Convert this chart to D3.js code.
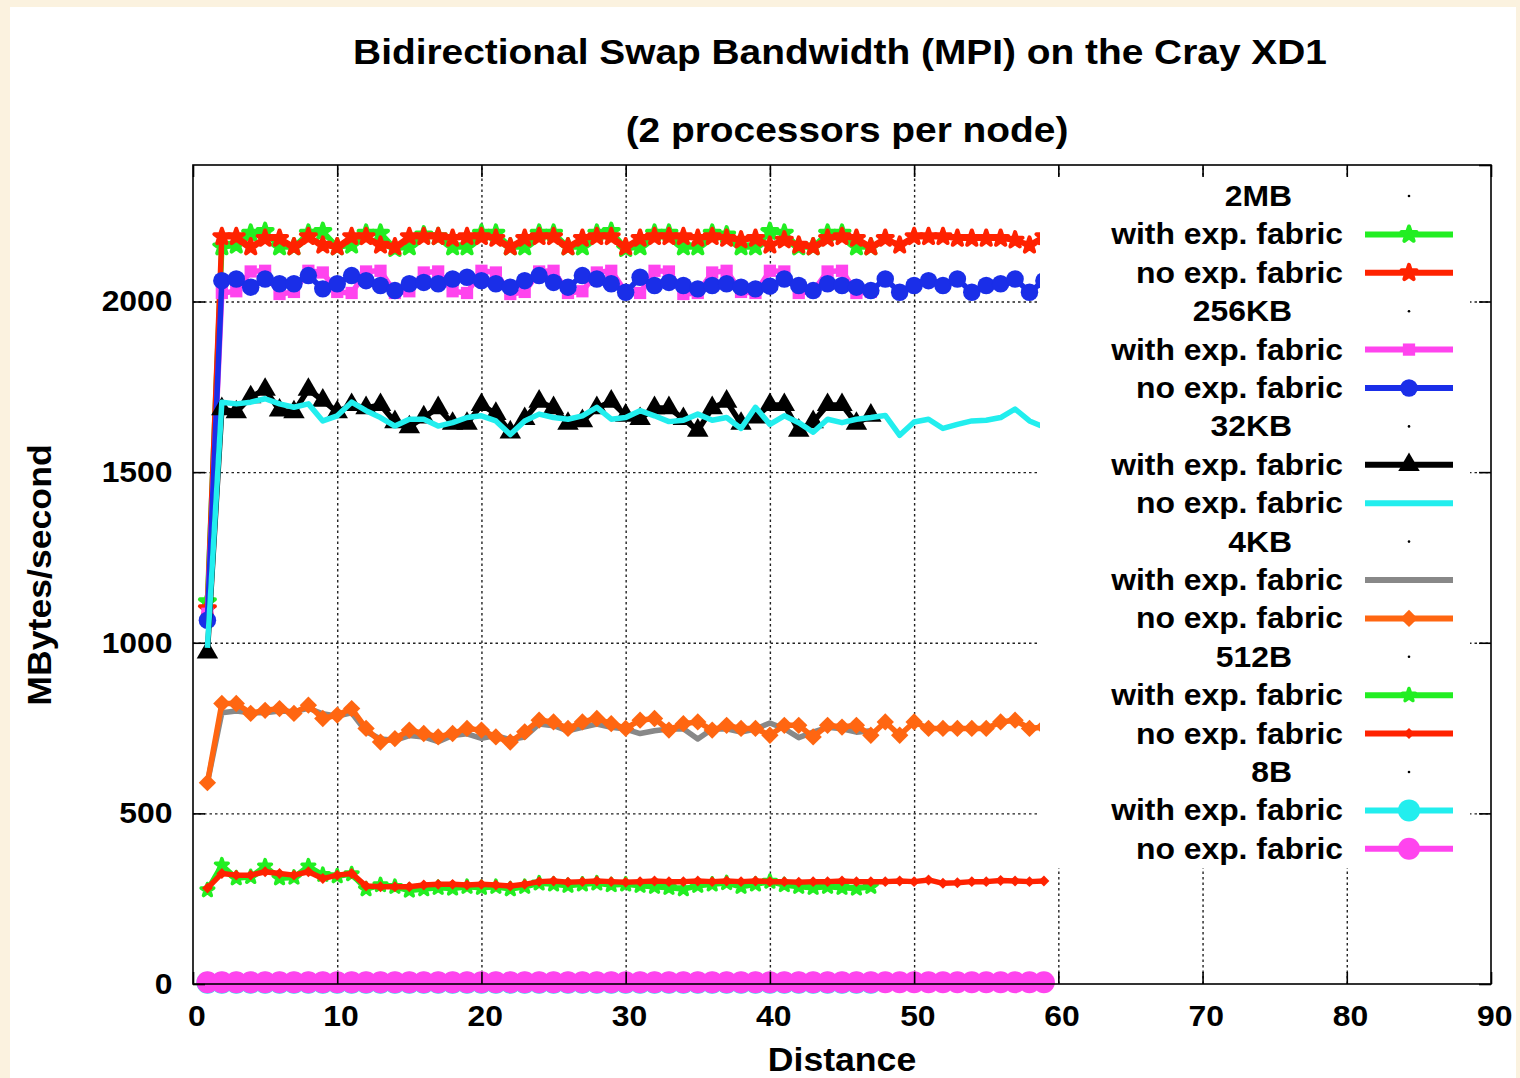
<!DOCTYPE html>
<html>
<head>
<meta charset="utf-8">
<script src="https://cdn.jsdelivr.net/npm/d3@7"></script>
<style>
  body { margin: 0; background: #fbf2df; }
  svg { display: block; }
  text { font-family: "Liberation Sans", Arial, Helvetica, sans-serif; font-weight: bold; fill: #000; }
</style>
</head>
<body>
<svg id="chart" width="1520" height="1078"></svg>
<script>
// Data
let distNo = [1,2,3,4,5,6,7,8,9,10,11,12,13,14,15,16,17,18,19,20,21,22,23,24,25,26,27,28,29,30,
  31,32,33,34,35,36,37,38,39,40,41,42,43,44,45,46,47,48,49,50,51,52,53,54,55,56,57,58,59];
let distWith = distNo.slice(0, 47);

let mb2With = [1120,
  2160,2165,2200,2205, 2160,2160,2200,2205, 2160,2165,2200,2200, 2155,2160,2195,2190,
  2160,2160,2200,2200, 2160,2160,2200,2200, 2160,2160,2200,2205, 2155,2160,2200,2200,
  2160,2160,2200,2195, 2160,2160,2205,2200, 2160,2160,2200,2200, 2160,2160];
let mb2No = [1100,
  2190,2190,2160,2185,2185,2160,2190,2165,2160,2190,
  2190,2165,2160,2190,2190,2190,2185,2190,2190,2185,
  2160,2185,2190,2190,2160,2185,2190,2190,2160,2185,
  2190,2190,2190,2185,2190,2185,2180,2185,2165,2180,
  2165,2160,2185,2190,2185,2160,2185,2165,2190,2190,
  2190,2185,2185,2185,2185,2180,2165,2190];
let kb256With = [1085,
  2025,2030,2088,2090, 2022,2028,2090,2085, 2028,2025,2088,2090, 2025,2030,2085,2088,
  2030,2025,2090,2085, 2022,2028,2088,2090, 2025,2030,2085,2090, 2028,2025,2090,2088,
  2022,2025,2085,2090, 2028,2025,2090,2088, 2025,2030,2088,2090, 2025,2028];
let kb256No = [1066,
  2061,2066,2042,2066,2052,2052,2076,2037,2052,2076,
  2061,2047,2032,2052,2056,2052,2066,2071,2061,2052,
  2042,2061,2076,2056,2042,2076,2066,2052,2027,2071,
  2047,2056,2047,2037,2047,2052,2042,2037,2045,2066,
  2047,2032,2052,2047,2042,2032,2066,2027,2047,2061,
  2047,2066,2027,2047,2052,2066,2027,2061];
let kb32With = [972,
  1685,1676,1720,1742,1681,1676,1742,1710,1676,1697,
  1688,1697,1647,1632,1661,1688,1642,1642,1697,1671,
  1617,1656,1707,1688,1642,1650,1688,1707,1666,1656,
  1688,1688,1656,1622,1688,1707,1642,1661,1697,1697,
  1622,1647,1697,1697,1642,1666];
let kb32No = [985,
  1705,1700,1705,1715,1700,1690,1700,1650,1665,1705,
  1680,1660,1635,1655,1655,1635,1645,1660,1665,1650,
  1610,1650,1670,1660,1655,1665,1690,1655,1660,1680,
  1665,1648,1652,1670,1652,1660,1628,1690,1640,1665,
  1645,1617,1655,1645,1655,1660,1666,1608,1647,1655,
  1628,1640,1650,1652,1660,1685,1650,1632];
let kb4With = [590,
  795,800,795,795,800,798,808,792,785,795,
  740,718,714,728,724,710,728,733,720,728,
  716,724,762,757,742,752,762,752,747,734,
  742,747,748,718,747,748,738,747,765,748,
  722,738,752,748,738,742];
let kb4No = [590,
  822,822,793,802,807,793,817,778,788,807,
  749,709,719,744,734,724,734,749,744,724,
  709,739,773,768,749,768,778,763,749,773,
  778,744,763,768,744,758,749,749,729,758,
  758,724,758,753,758,729,768,729,768,749,
  749,749,749,749,768,773,749,753];
let b512With = [275,
  348,310,314,345,310,312,345,320,316,322,
  278,290,285,274,278,282,280,285,282,285,
  278,285,295,292,288,292,295,290,292,288,
  285,282,278,288,292,296,285,292,300,290,
  285,282,285,282,280,285];
let b512No = [281,
  324,319,319,329,324,319,329,309,319,324,
  287,285,285,285,290,292,292,290,292,290,
  287,292,300,302,298,300,302,300,298,300,
  302,300,300,302,300,302,300,302,300,300,
  298,300,300,302,300,300,300,302,300,305,
  295,297,300,300,303,302,300,302];
let b8With = [4,4,4,4,4,4,4,4,4,4, 4,4,4,4,4,4,4,4,4,4, 4,4,4,4,4,4,4,4,4,4,
  4,4,4,4,4,4,4,4,4,4, 4,4,4,4,4,4,4];
let b8No = [5,5,5,5,5,5,5,5,5,5, 5,5,5,5,5,5,5,5,5,5, 5,5,5,5,5,5,5,5,5,5,
  5,5,5,5,5,5,5,5,5,5, 5,5,5,5,5,5,5,5,5,5, 5,5,5,5,5,5,5,5,5];

let sizeLabels = ['2MB', '256KB', '32KB', '4KB', '512B', '8B'];
let xTicks = [0, 10, 20, 30, 40, 50, 60, 70, 80, 90];
let yTicks = [0, 500, 1000, 1500, 2000];

let zip = (xs, vs) => xs.map((d, i) => [d, vs[i]]);

// plot order = gnuplot order, later ones on top
let series = [
  {label: 'with exp. fabric', pts: zip(distWith, mb2With),   color: '#22ee22', symbol: d3.symbolStar,   size: 70,  stroke: 4},
  {label: 'no exp. fabric',   pts: zip(distNo, mb2No),       color: '#ff2200', symbol: d3.symbolStar,   size: 70,  stroke: 4},
  {label: 'with exp. fabric', pts: zip(distWith, kb256With), color: '#ff44ee', symbol: d3.symbolSquare, size: 150},
  {label: 'no exp. fabric',   pts: zip(distNo, kb256No),     color: '#1a2ee8', symbol: d3.symbolCircle, size: 240},
  {label: 'with exp. fabric', pts: zip(distWith, kb32With),  color: '#000000', symbol: d3.symbolTriangle, size: 200},
  {label: 'no exp. fabric',   pts: zip(distNo, kb32No),      color: '#22eeee', symbol: null},
  {label: 'with exp. fabric', pts: zip(distWith, kb4With),   color: '#888888', symbol: null},
  {label: 'no exp. fabric',   pts: zip(distNo, kb4No),       color: '#ff6611', symbol: d3.symbolSquare, size: 150, rotate: 45},
  {label: 'with exp. fabric', pts: zip(distWith, b512With),  color: '#22ee22', symbol: d3.symbolStar,   size: 50,  stroke: 3.5},
  {label: 'no exp. fabric',   pts: zip(distNo, b512No),      color: '#ff2200', symbol: d3.symbolSquare, size: 60, rotate: 45},
  {label: 'with exp. fabric', pts: zip(distWith, b8With),    color: '#22eeee', symbol: d3.symbolCircle, size: 380},
  {label: 'no exp. fabric',   pts: zip(distNo, b8No),        color: '#ff44ee', symbol: d3.symbolCircle, size: 380}
];

let svg = d3.select('#chart');
let plot = {left: 193, right: 1491, top: 165, bottom: 984};

svg.append('rect')
  .attr('x', 10).attr('y', 7).attr('width', 1506).attr('height', 1071)
  .attr('fill', '#fff');

let x = d3.scaleLinear().domain([0, 90]).range([plot.left, plot.right]);
let y = d3.scaleLinear().domain([0, 2400]).range([plot.bottom, plot.top]);

// dotted grid
let gridX = svg.append('g').attr('transform', `translate(0,${plot.bottom})`)
  .call(d3.axisBottom(x).tickValues(xTicks.slice(1, -1)).tickSize(-(plot.bottom - plot.top)).tickFormat(''));
let gridY = svg.append('g').attr('transform', `translate(${plot.left},0)`)
  .call(d3.axisLeft(y).tickValues(yTicks.slice(1)).tickSize(-(plot.right - plot.left)).tickFormat(''));
[gridX, gridY].forEach(g => {
  g.select('.domain').remove();
  g.selectAll('line').attr('stroke', '#222').attr('stroke-width', 1.4).attr('stroke-dasharray', '2.5,3');
});

// series
let line = d3.line().x(d => x(d[0])).y(d => y(d[1]));
let marks = (g, s, pts, tx) => {
  if (!s.symbol) return;
  g.selectAll('path.mark').data(pts).enter().append('path')
    .attr('class', 'mark')
    .attr('d', d3.symbol().type(s.symbol).size(s.size))
    .attr('transform', d => `translate(${tx(d)}) rotate(${s.rotate || 0})`)
    .attr('fill', s.color)
    .attr('stroke', s.color)
    .attr('stroke-width', s.stroke || 0)
    .attr('stroke-linejoin', 'round');
};

series.forEach(s => {
  let g = svg.append('g');
  g.append('path').datum(s.pts)
    .attr('d', line)
    .attr('fill', 'none')
    .attr('stroke', s.color)
    .attr('stroke-width', 5.5)
    .attr('stroke-linejoin', 'round');
  marks(g, s, s.pts, d => `${x(d[0])},${y(d[1])}`);
});

// opaque key
svg.append('rect')
  .attr('x', 1040).attr('y', 178).attr('width', 430).attr('height', 690)
  .attr('fill', '#fff');

let key = svg.append('g');
let rowH = 38.4, row0 = 196;
let stretch = 'scale(1.08,1)';
sizeLabels.forEach((lab, i) => {
  let yy = row0 + i * 3 * rowH;
  key.append('text')
    .attr('transform', `translate(1292,${yy + 10}) ${stretch}`)
    .attr('text-anchor', 'end').style('font-size', '29.5px')
    .text(lab);
  key.append('circle').attr('cx', 1409).attr('cy', yy).attr('r', 1.3).attr('fill', '#000');
  [0, 1].forEach(j => {
    let s = series[i * 2 + j], ry = yy + (j + 1) * rowH;
    key.append('text')
      .attr('transform', `translate(1343,${ry + 10}) ${stretch}`)
      .attr('text-anchor', 'end').style('font-size', '29.5px')
      .text(s.label);
    key.append('line')
      .attr('x1', 1365).attr('x2', 1453).attr('y1', ry).attr('y2', ry)
      .attr('stroke', s.color).attr('stroke-width', 6);
    marks(key.append('g'), s, [[0, 0]], d => `1409,${ry}`);
  });
});

// border + inward ticks on all sides
svg.append('rect')
  .attr('x', plot.left).attr('y', plot.top)
  .attr('width', plot.right - plot.left).attr('height', plot.bottom - plot.top)
  .attr('fill', 'none').attr('stroke', '#000').attr('stroke-width', 1.6);

let axB = svg.append('g').attr('transform', `translate(0,${plot.bottom})`)
  .call(d3.axisBottom(x).tickValues(xTicks).tickSizeInner(-12).tickSizeOuter(0).tickPadding(21));
let axL = svg.append('g').attr('transform', `translate(${plot.left},0)`)
  .call(d3.axisLeft(y).tickValues(yTicks).tickFormat(d3.format('d')).tickSizeInner(-12).tickSizeOuter(0).tickPadding(19));
let axT = svg.append('g').attr('transform', `translate(0,${plot.top})`)
  .call(d3.axisTop(x).tickValues(xTicks).tickSizeInner(-12).tickSizeOuter(0).tickFormat(''));
let axR = svg.append('g').attr('transform', `translate(${plot.right},0)`)
  .call(d3.axisRight(y).tickValues(yTicks.concat([2400])).tickSizeInner(-12).tickSizeOuter(0).tickFormat(''));
[axB, axL, axT, axR].forEach(g => {
  g.select('.domain').remove();
  g.selectAll('line').attr('stroke', '#000').attr('stroke-width', 1.6);
  g.selectAll('text')
    .attr('font-family', null).attr('font-size', null)
    .style('font-size', '29.5px').attr('fill', '#000')
    .attr('transform', stretch);
});
axB.selectAll('text').attr('dx', 3);

// titles
let label = (str, tx, ty, size, rot) => {
  svg.append('text')
    .attr('transform', `translate(${tx},${ty})${rot ? ' rotate(' + rot + ')' : ''} ${stretch}`)
    .attr('text-anchor', 'middle')
    .style('font-size', size + 'px')
    .text(str);
};
label('Bidirectional Swap Bandwidth (MPI) on the Cray XD1', 840, 64, 36);
label('(2 processors per node)', 847, 142, 36);
label('Distance', 842, 1071, 33);
label('MBytes/second', 51, 575, 33, -90);
</script>
</body>
</html>
